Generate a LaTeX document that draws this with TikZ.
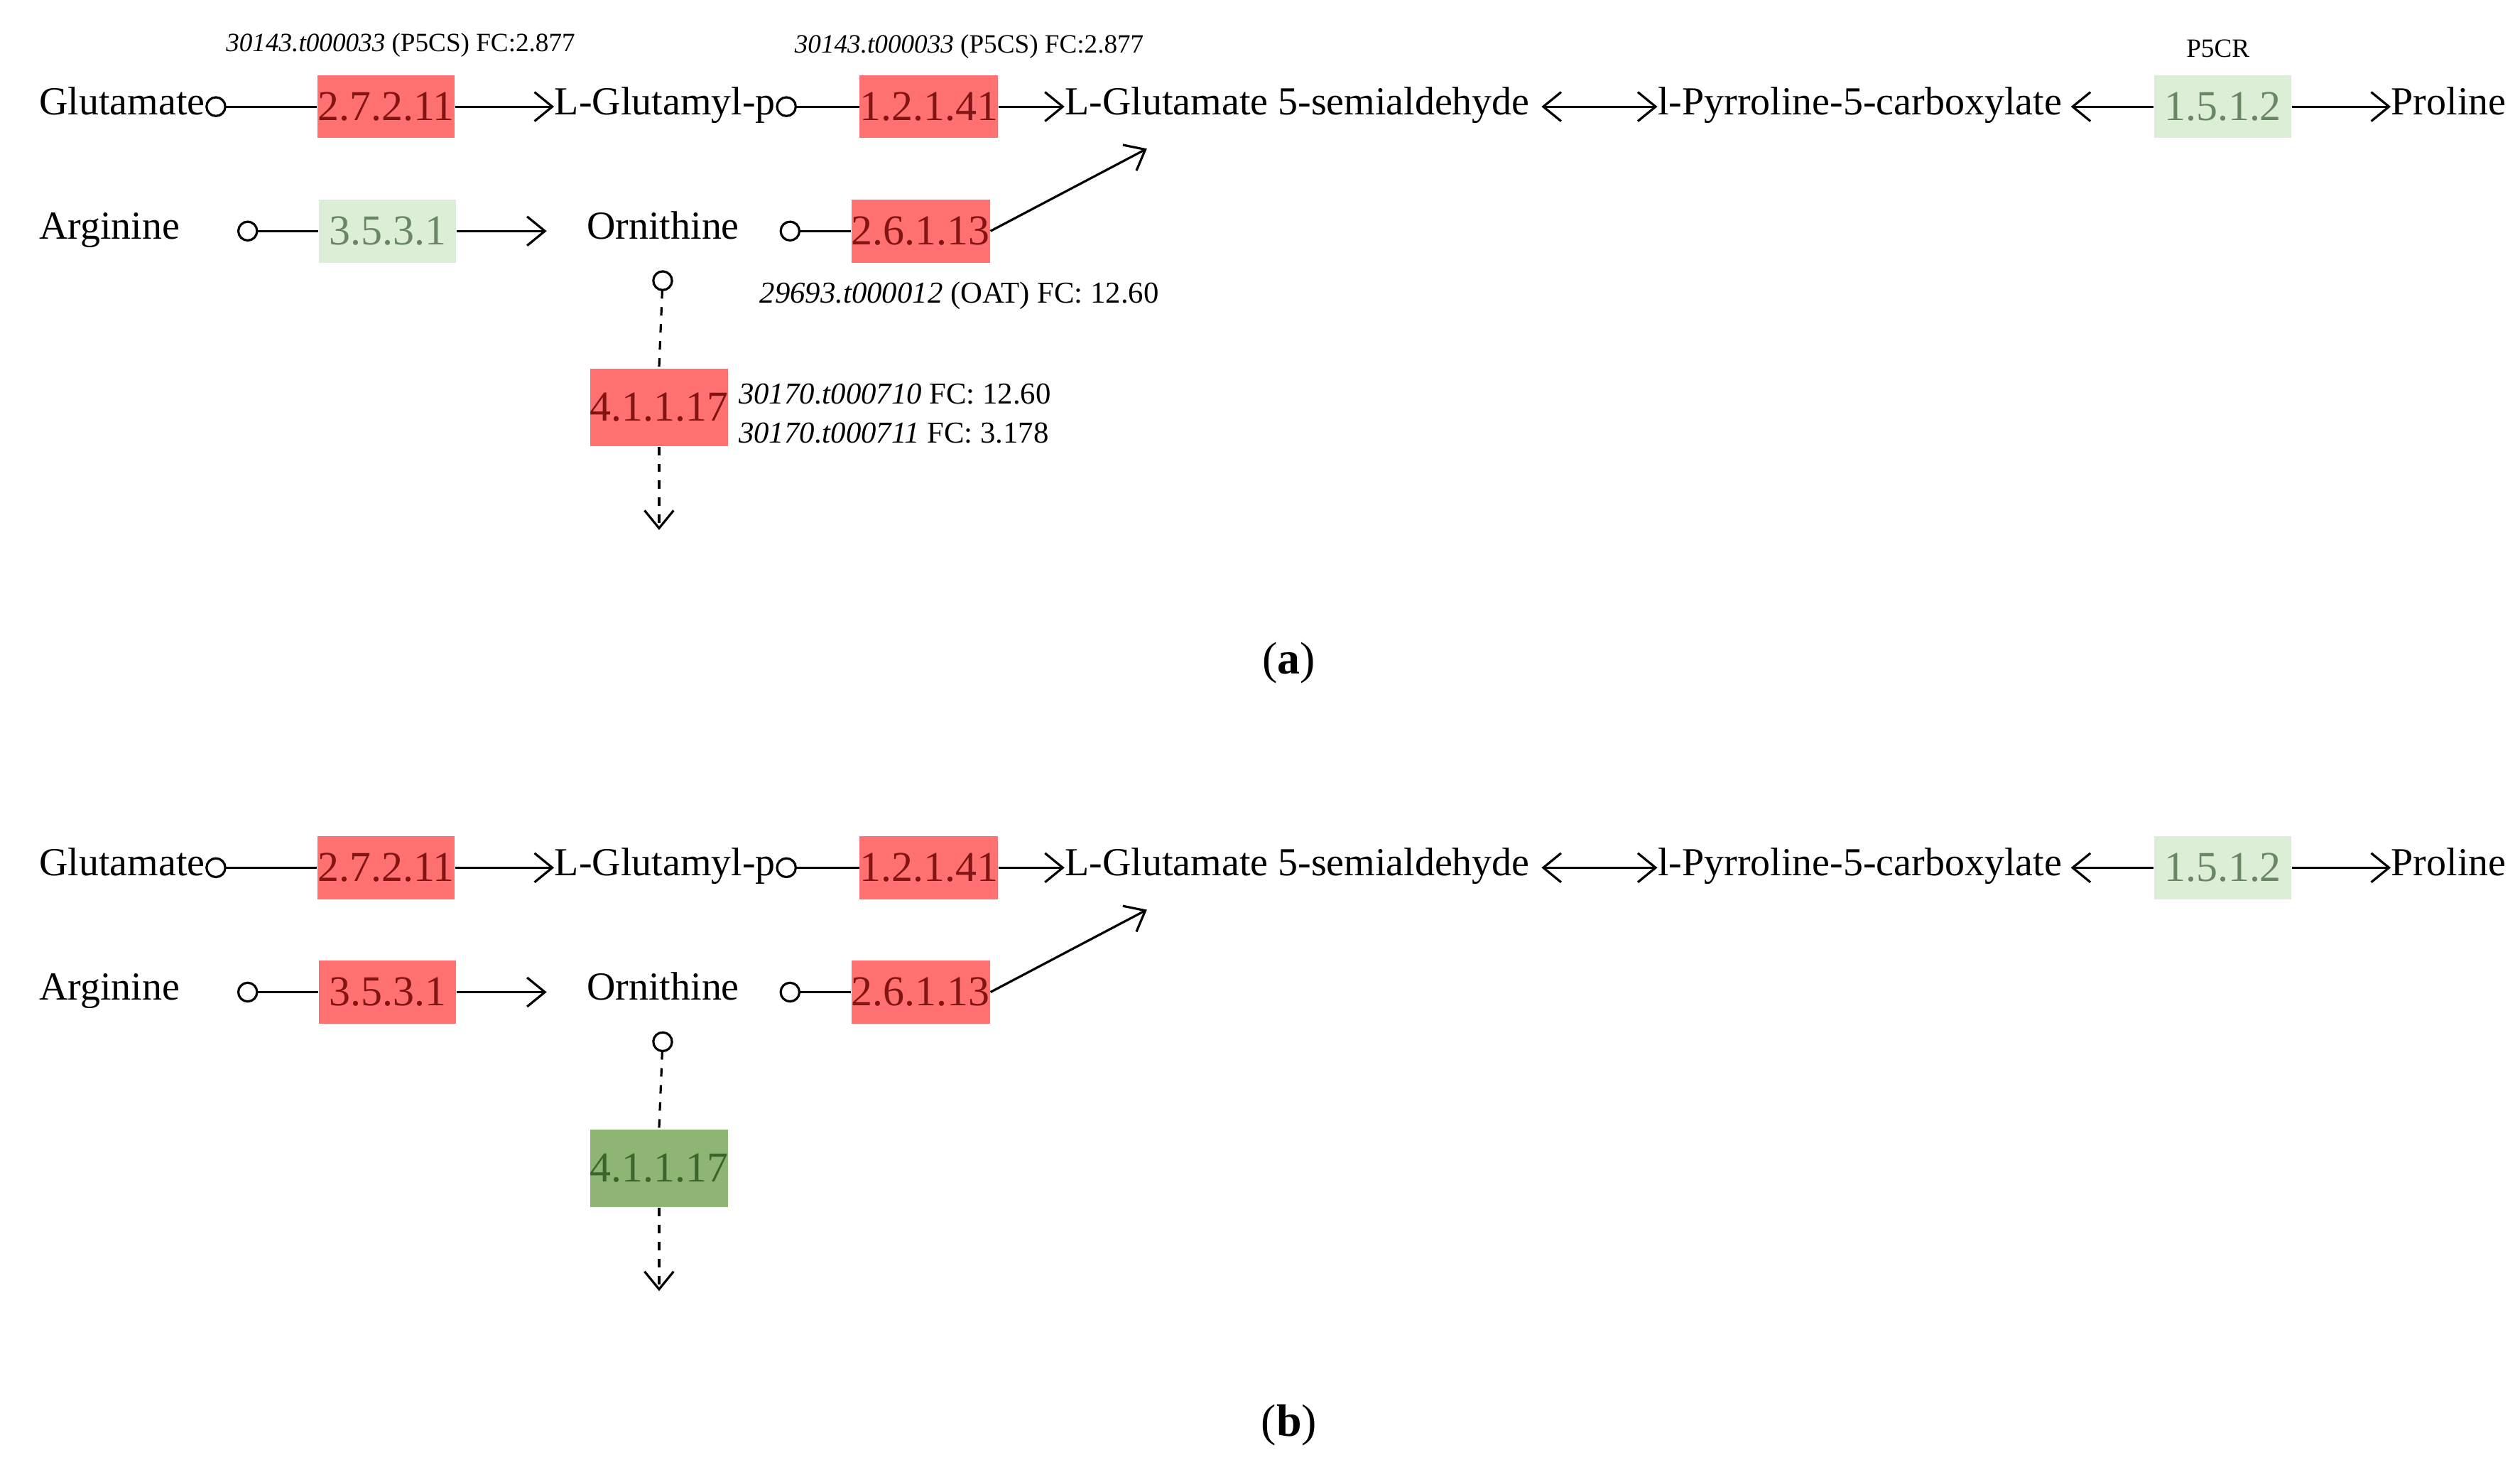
\documentclass[tikz,border=0pt]{standalone}
\usepackage{fontspec}
\setmainfont{Liberation Serif}
\usetikzlibrary{arrows.meta,positioning}
\definecolor{upred}{RGB}{255,112,112}
\definecolor{uptext}{RGB}{130,20,20}
\definecolor{lightgrn}{RGB}{221,238,214}
\definecolor{lightgrntext}{RGB}{105,135,100}
\definecolor{darkgrn}{RGB}{143,181,117}
\definecolor{darkgrntext}{RGB}{60,100,45}
\begin{document}
\begin{tikzpicture}[x={(0.02cm,0)},y={(0,-0.02cm)},
    met/.style={inner sep=0pt,text height=1.6ex,text depth=0.4ex,font=\fontsize{14}{16}\selectfont},
    enz/.style={minimum width=1.7cm,minimum height=0.78cm,inner sep=0pt,font=\fontsize{15}{17}\selectfont},
    up/.style={enz,fill=upred,text=uptext},
    weak/.style={enz,fill=lightgrn,text=lightgrntext},
    down/.style={enz,fill=darkgrn,text=darkgrntext},
    sub/.style={line width=0.8pt,{Circle[open,length=2.6mm,width=2.6mm]}-},
    prod/.style={line width=0.8pt,-{Straight Barb[length=2.2mm,width=3.6mm]}},
    lab/.style={inner sep=0pt,font=\fontsize{9.3}{11}\selectfont},
    labm/.style={inner sep=0pt,font=\fontsize{10.7}{12}\selectfont}]
    \useasboundingbox (0,0) rectangle (1560,914);
    % both panels, shifted down
    \foreach \p/\yo/\cA/\cB in {a/0/weak/up,b/471/up/down} {
    \begin{scope}[yshift=-\yo*0.02cm]
        \node[met,anchor=west] (glu\p) at (24,66) {Glutamate};
        \node[up] (e1\p) at (239,66) {2.7.2.11};
        \node[met,anchor=west] (glp\p) at (343,66) {L-Glutamyl-p};
        \node[up] (e2\p) at (575,66) {1.2.1.41};
        \node[met,anchor=west] (gsa\p) at (659,66) {L-Glutamate 5-semialdehyde};
        \node[met,anchor=west] (p5c\p) at (1026,66) {l-Pyrroline-5-carboxylate};
        \node[weak] (e3\p) at (1376,66) {1.5.1.2};
        \node[met,anchor=west] (pro\p) at (1480,66) {Proline};
        \node[met,anchor=west] (arg\p) at (24,143) {Arginine};
        \node[\cA] (e4\p) at (240,143) {3.5.3.1};
        \node[met,anchor=west] (orn\p) at (363,143) {Ornithine};
        \node[up] (e5\p) at (570,143) {2.6.1.13};
        \node[\cB,minimum height=0.96cm] (e6\p) at (408,252) {4.1.1.17};
        \coordinate (gsain\p) at (710,92);
        \coordinate (out\p) at (408,328);
        % connectors
        \draw[sub] (glu\p.east) -- (e1\p.west);
        \draw[prod] (e1\p.east) -- (glp\p.west);
        \draw[sub] (glp\p.east) -- (e2\p.west);
        \draw[prod] (e2\p.east) -- (gsa\p.west);
        \draw[line width=0.8pt,{Straight Barb[length=2.2mm,width=3.6mm]}-{Straight Barb[length=2.2mm,width=3.6mm]}] ([xshift=4pt]gsa\p.east) -- (p5c\p.west);
        \draw[prod] (e3\p.west) -- ([xshift=3pt]p5c\p.east);
        \draw[prod] (e3\p.east) -- (pro\p.west);
        \draw[sub] ([xshift=20]arg\p.east) -- (e4\p.west);
        \draw[prod] (e4\p.east) -- ([xshift=-14]orn\p.west);
        \draw[sub] ([xshift=14]orn\p.east) -- (e5\p.west);
        \draw[prod] (e5\p.east) -- (gsain\p);
        \draw[sub,dashed] ([yshift=-9]orn\p.south) -- (e6\p.north);
        \draw[prod,dashed] (e6\p.south) -- (out\p);
    \end{scope}
    }
    % gene labels, panel (a)
    \node[lab] (l1) at (248,28) {\textit{30143.t000033} (P5CS) FC:2.877};
    \node[lab] (l2) at (600,29) {\textit{30143.t000033} (P5CS) FC:2.877};
    \node[lab] (l3) at (1373,30) {P5CR};
    \node[labm,anchor=west] (l4) at (470,183) {\textit{29693.t000012} (OAT) FC: 12.60};
    \node[labm,anchor=west] (l5) at (457,244) {\textit{30170.t000710} FC: 12.60};
    \node[labm,anchor=west] (l6) at (457,268) {\textit{30170.t000711} FC: 3.178};
    % panel captions
    \node[met,font=\fontsize{16}{18}\selectfont] (capa) at (798,412) {(\textbf{a})};
    \node[met,font=\fontsize{16}{18}\selectfont] (capb) at (798,884) {(\textbf{b})};
\end{tikzpicture}
\end{document}
